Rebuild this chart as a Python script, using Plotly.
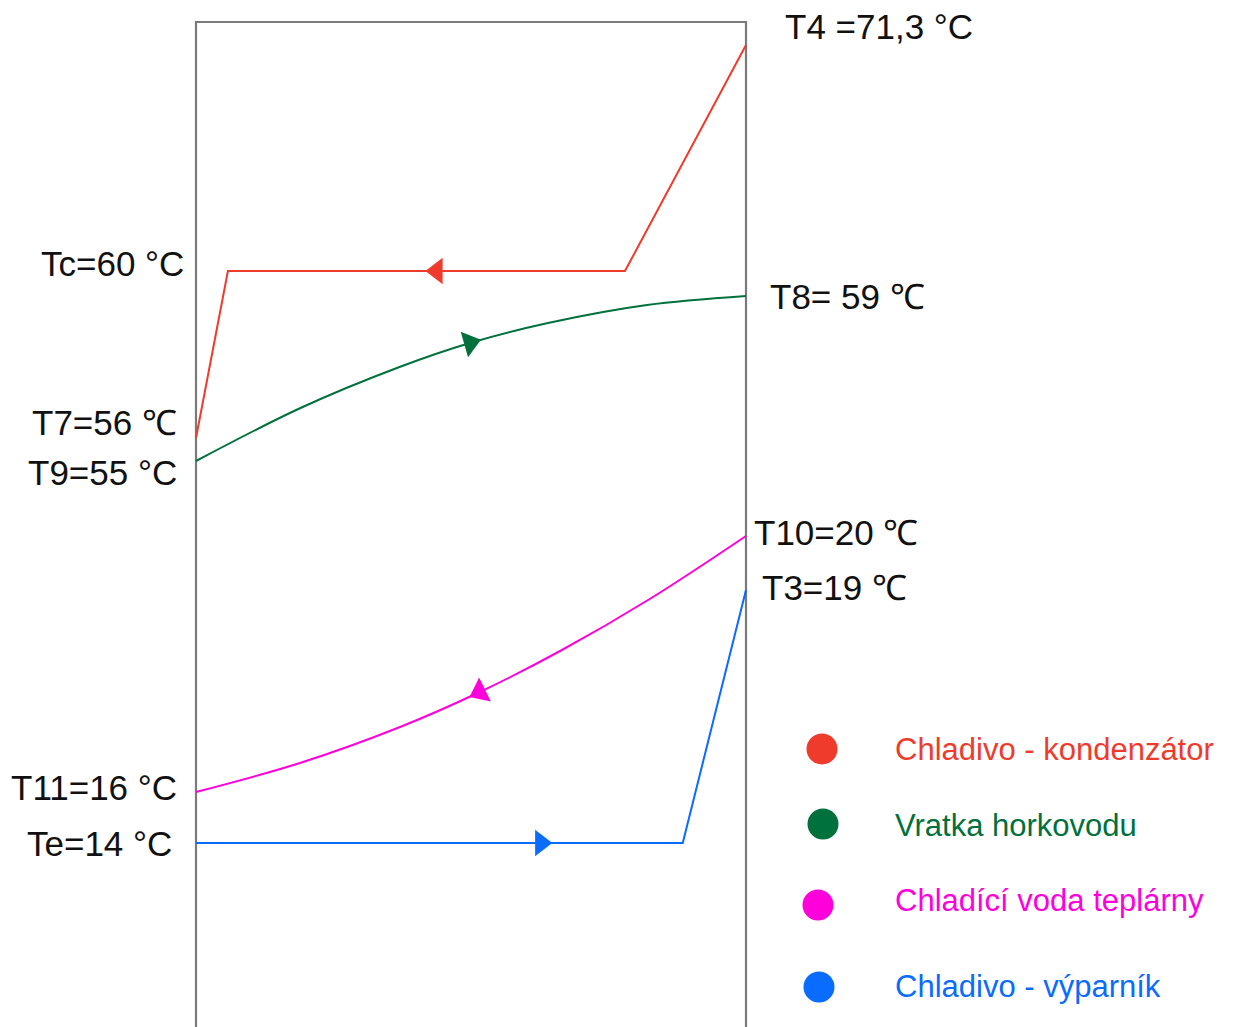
import plotly.graph_objects as go

W, H = 1233, 1027

# ---- data (schematic: x = fraction of exchanger length, y = diagram level) ----
series_names = ["Chladivo - kondenzátor", "Vratka horkovodu",
                "Chladící voda teplárny", "Chladivo - výparník"]
series_colors = ["#ef3b2c", "#00703c", "#ff00dd", "#0a6cff"]

red_x = [0.0, 0.058, 0.78, 1.0]
red_y = [589, 756, 756, 982]

green_x = [0.0, 0.19, 0.37, 0.498, 0.64, 0.82, 1.0]
green_y = [566, 619, 660, 684, 704, 722, 731]

magenta_x = [1.0, 0.825, 0.662, 0.516, 0.371, 0.189, 0.0]
magenta_y = [491, 428, 376, 335, 300, 264, 235]

blue_x = [0.0, 0.885, 1.0]
blue_y = [184, 184, 437]

# arrow positions along each line (x, y, symbol, angle)
arrows = [
    (0.438, 756, "triangle-left", 0),
    (0.498, 684, "triangle-right", -16),
    (0.516, 335, "triangle-left", -26),
    (0.627, 184, "triangle-right", 0),
]

left_labels = ["Tc=60 °C", "T7=56 ℃", "T9=55 °C", "T11=16 °C", "Te=14 °C"]
left_label_pos = [(186, 264), (179, 422), (179, 473), (179, 787), (174, 843)]
right_labels = ["T4 =71,3 °C", "T8= 59 ℃", "T10=20 ℃", "T3=19 ℃"]
right_label_pos = [(783, 26), (768, 296), (752, 532), (760, 587)]

legend_dot_pos = [(822, 749), (823, 824), (818, 905), (819, 987)]
legend_text_pos = [(893, 749), (893, 825), (893, 900), (893, 986)]

# ---- axes mapping: px = 196 + 550*x ; level = H - py ----
X0, XW = 196, 550
xr = [-X0 / XW, (W - X0) / XW]
yr = [0, H]

FONT = "Liberation Sans, Arial, Helvetica, sans-serif"

fig = go.Figure()

# exchanger box
fig.add_trace(go.Scatter(x=[0, 0, 1, 1], y=[-5, H - 22, H - 22, -5], mode="lines",
                         line=dict(color="#7a7a7a", width=2.2), hoverinfo="skip",
                         showlegend=False))

for xs, ys, c in [(red_x, red_y, series_colors[0]),
                  (green_x, green_y, series_colors[1]),
                  (magenta_x, magenta_y, series_colors[2]),
                  (blue_x, blue_y, series_colors[3])]:
    shape = "spline" if len(xs) > 4 else "linear"
    fig.add_trace(go.Scatter(x=xs, y=ys, mode="lines",
                             line=dict(color=c, width=2, shape=shape, smoothing=1.0),
                             hoverinfo="skip", showlegend=False))

for (ax, ay, sym, ang), c in zip(arrows, series_colors):
    fig.add_trace(go.Scatter(x=[ax], y=[ay], mode="markers",
                             marker=dict(symbol=sym, size=23, color=c, angle=ang,
                                         line=dict(width=0)),
                             hoverinfo="skip", showlegend=False))

# legend dots
for (px, py), c in zip(legend_dot_pos, series_colors):
    fig.add_trace(go.Scatter(x=[(px - X0) / XW], y=[H - py], mode="markers",
                             marker=dict(symbol="circle", size=31, color=c),
                             hoverinfo="skip", showlegend=False))

ann = []
for t, (px, py) in zip(left_labels, left_label_pos):
    ann.append(dict(text=t, x=px / W, y=1 - py / H, xref="paper", yref="paper",
                    xanchor="right", yanchor="middle", showarrow=False,
                    font=dict(size=35, color="#111111", family=FONT)))
for t, (px, py) in zip(right_labels, right_label_pos):
    ann.append(dict(text=t, x=px / W, y=1 - py / H, xref="paper", yref="paper",
                    xanchor="left", yanchor="middle", showarrow=False,
                    font=dict(size=35, color="#111111", family=FONT)))
for t, (px, py), c in zip(series_names, legend_text_pos, series_colors):
    ann.append(dict(text=t, x=px / W, y=1 - py / H, xref="paper", yref="paper",
                    xanchor="left", yanchor="middle", showarrow=False,
                    font=dict(size=31, color=c, family=FONT)))

fig.update_layout(
    width=W, height=H,
    margin=dict(l=0, r=0, t=0, b=0),
    paper_bgcolor="white", plot_bgcolor="white",
    xaxis=dict(range=xr, visible=False, fixedrange=True),
    yaxis=dict(range=yr, visible=False, fixedrange=True),
    annotations=ann,
    showlegend=False,
)

fig.write_html("out.html", config={"displayModeBar": False},
               post_script="document.body.style.margin='0';")
